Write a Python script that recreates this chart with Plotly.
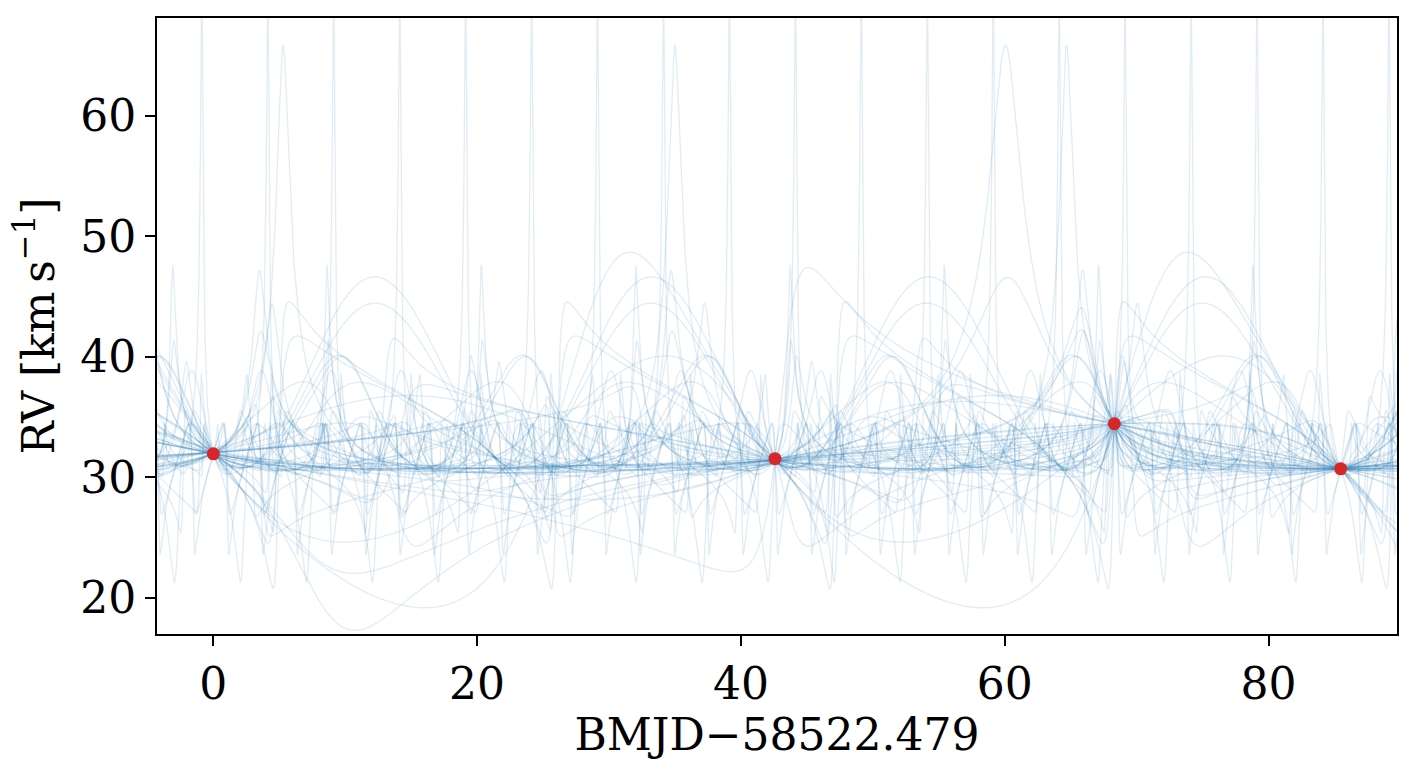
import numpy as np
import plotly.graph_objects as go

t_obs = np.array([0.0, 42.58, 68.31, 85.47])
rv_obs = np.array([31.95, 31.54, 34.44, 30.70])

# Posterior orbit samples: period [d], eccentricity and two semi-amplitude K [km/s] targets;
# the phase, argument of pericentre and systemic velocity are solved so each orbit fits the data
periods = [2.6, 2.8, 3.0, 3.2, 3.5, 3.7, 4.0, 4.3, 4.6, 5.0,
           5.3, 5.7, 6.1, 6.5, 7.0, 7.5, 8.0, 8.6, 9.2, 9.8,
           10.4, 11.0, 11.7, 12.4, 13.1, 13.9, 14.7, 15.5, 16.4, 17.3,
           18.3, 19.3, 20.3, 20.9, 21.0, 21.1, 21.4, 22.0, 22.8, 23.7,
           24.7, 25.8, 27.0, 28.3, 29.7, 31.2, 32.8, 34.5, 36.3, 38.2,
           40.2, 42.3, 42.7, 44.5, 46.8, 49.2, 51.8, 54.5, 57.4, 60.5,
           63.8, 67.3, 71.0, 75.0, 79.3, 83.9, 88.8, 94.0, 99.6, 105.6,
           112.0, 119.0, 126.5, 134.6, 143.3, 152.7, 162.8, 173.7, 185.4, 198.0,
           212.0, 227.0, 243.0, 261.0, 280.0, 301.0, 324.0, 349.0, 376.0, 405.0,
           437.0, 472.0, 510.0, 551.0, 596.0, 645.0, 700.0, 760.0, 830.0, 910.0,
           1000.0]
eccs = [0.25, 0.50, 0.35, 0.65, 0.15, 0.45, 0.55, 0.30, 0.70, 0.40,
        0.20, 0.60, 0.35, 0.50, 0.25, 0.75, 0.45, 0.30, 0.55, 0.15,
        0.40, 0.65, 0.25, 0.50, 0.35, 0.60, 0.20, 0.45, 0.70, 0.30,
        0.55, 0.40, 0.50, 0.45, 0.35, 0.60, 0.25, 0.50, 0.30, 0.65,
        0.20, 0.45, 0.55, 0.35, 0.70, 0.25, 0.50, 0.40, 0.60, 0.30,
        0.45, 0.15, 0.55, 0.35, 0.65, 0.25, 0.50, 0.40, 0.30, 0.60,
        0.20, 0.45, 0.35, 0.55, 0.25, 0.50, 0.30, 0.40, 0.60, 0.20,
        0.45, 0.35, 0.55, 0.25, 0.40, 0.30, 0.50, 0.20, 0.45, 0.35,
        0.25, 0.50, 0.30, 0.40, 0.20, 0.55, 0.35, 0.45, 0.25, 0.40,
        0.30, 0.50, 0.20, 0.45, 0.35, 0.25, 0.40, 0.30, 0.50, 0.35,
        0.40]
semi_amplitudes = [4, 8, 3, 12, 6, 20, 5, 10, 35, 7,
                   15, 60, 4, 9, 25, 120, 5, 11, 18, 3,
                   7, 40, 6, 14, 22, 80, 4, 9, 30, 6,
                   12, 20, 45, 25, 22, 18, 5, 10, 28, 7,
                   13, 50, 4, 8, 24, 6, 11, 19, 70, 5,
                   9, 15, 30, 6, 12, 4, 8, 20, 5, 10,
                   3, 14, 6, 25, 4, 9, 5, 12, 35, 3,
                   7, 4, 16, 5, 8, 3, 10, 4, 6, 9,
                   3, 12, 5, 7, 4, 20, 6, 8, 3, 5,
                   4, 10, 3, 6, 5, 3, 7, 4, 8, 5,
                   4]
semi_amplitudes_alt = [6, 15, 5, 9, 30, 4, 150, 7, 12, 20,
                       5, 10, 200, 8, 6, 14, 40, 5, 9, 90,
                       12, 6, 18, 5, 60, 10, 7, 25, 5, 15,
                       8, 35, 14, 60, 55, 9, 30, 6, 12, 150,
                       6, 10, 25, 14, 5, 40, 7, 6, 12, 30,
                       5, 8, 12, 45, 7, 20, 14, 6, 30, 8,
                       12, 6, 20, 8, 14, 6, 25, 7, 9, 15,
                       5, 18, 8, 12, 4, 14, 6, 10, 20, 6,
                       8, 5, 10, 4, 12, 6, 9, 15, 7, 10,
                       6, 4, 9, 12, 3, 8, 5, 10, 4, 7,
                       6]
fit_tolerance = 0.55   # km/s, residual allowed at the data points

x_range = [-4.27, 89.74]
y_range = [17.0, 68.1]
x_ticks = [0, 20, 40, 60, 80]
y_ticks = [20, 30, 40, 50, 60]


def true_anomaly(M, e):
    M = np.mod(M + np.pi, 2 * np.pi) - np.pi
    E = M + 0.85 * e * np.sign(np.sin(M))
    for _ in range(25):
        E = E - (E - e * np.sin(E) - M) / (1 - e * np.cos(E))
    return 2 * np.arctan2(np.sqrt(1 + e) * np.sin(E / 2), np.sqrt(1 - e) * np.cos(E / 2))


e_grid = np.linspace(0.02, 0.80, 40)
M0_grid = np.linspace(0, 2 * np.pi, 1200, endpoint=False)


def candidates(P):
    EE, MM = np.meshgrid(e_grid, M0_grid, indexing="ij")
    f = true_anomaly(2 * np.pi * t_obs[None, None, :] / P - MM[..., None], EE[..., None])
    X = np.stack([np.ones_like(f), np.cos(f), np.sin(f)], axis=-1)
    A = np.concatenate([X, np.broadcast_to(rv_obs, f.shape)[..., None]], axis=-1)
    dA = np.linalg.det(A)
    dX = np.linalg.det(np.einsum("...ij,...ik->...jk", X, X))
    with np.errstate(divide="ignore", invalid="ignore"):
        res = np.abs(dA) / np.sqrt(np.maximum(dX, 1e-300))
    res = np.where(dX > 1e-8, res, np.inf)
    left = np.roll(res, 1, axis=1)
    right = np.roll(res, -1, axis=1)
    ie, im = np.where((res <= left) & (res < right) & (res < fit_tolerance))
    out = []
    for a, b in zip(ie, im):
        Xi = X[a, b]
        coef = np.linalg.solve(Xi.T @ Xi, Xi.T @ rv_obs)
        out.append((e_grid[a], M0_grid[b], coef, np.hypot(coef[1], coef[2])))
    return out


t_grid = np.linspace(x_range[0], x_range[1], 3000)

fig = go.Figure()
for P, e_t, K1, K2 in zip(periods, eccs, semi_amplitudes, semi_amplitudes_alt):
    cands = candidates(P)
    if not cands:
        continue
    chosen = []
    for K_t in (K1, K2):
        cost = [((c[0] - e_t) / 0.25) ** 2 + (np.log(c[3] / K_t) / 0.2) ** 2 for c in cands]
        k = int(np.argmin(cost))
        if k in chosen:
            continue
        chosen.append(k)
        e, M0, coef, K = cands[k]
        f = true_anomaly(2 * np.pi * t_grid / P - M0, e)
        v = coef[0] + coef[1] * np.cos(f) + coef[2] * np.sin(f)
        fig.add_trace(go.Scatter(
            x=t_grid.astype(np.float32), y=v.astype(np.float32), mode="lines",
            line=dict(color="#1f77b4", width=1.3), opacity=0.13,
            hoverinfo="skip", showlegend=False))

fig.add_trace(go.Scatter(
    x=t_obs, y=rv_obs, mode="markers",
    marker=dict(color="#d62728", size=13, line=dict(width=0)),
    hoverinfo="skip", showlegend=False))

font_family = "DejaVu Serif"
axis_common = dict(
    showline=True, linecolor="black", linewidth=2, mirror=True,
    ticks="outside", ticklen=10, tickwidth=2, tickcolor="black",
    showgrid=False, zeroline=False,
    tickfont=dict(family=font_family, size=44, color="black"),
)

fig.update_layout(
    width=1417, height=776,
    margin=dict(l=157, r=20, t=18, b=142),
    plot_bgcolor="white", paper_bgcolor="white",
    font=dict(family=font_family, color="black", size=44),
    xaxis=dict(range=x_range, tickvals=x_ticks,
               title=dict(text="BMJD−58522.479", font=dict(family=font_family, size=44),
                          standoff=6),
               **axis_common),
    yaxis=dict(range=y_range, tickvals=y_ticks,
               title=dict(text="RV [km\u2009s<sup>−1</sup>]",
                          font=dict(family=font_family, size=44),
                          standoff=12),
               **axis_common),
)

fig.write_html("out.html")
